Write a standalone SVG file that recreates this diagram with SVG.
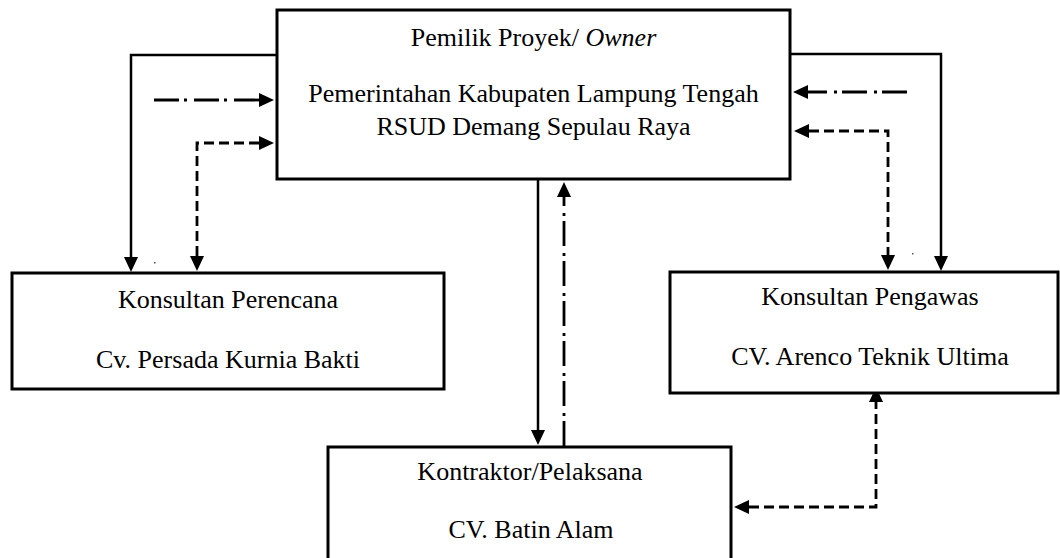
<svg xmlns="http://www.w3.org/2000/svg" width="1060" height="558" viewBox="0 0 1060 558">
  <style>
    .box { fill: #ffffff; stroke: #000000; stroke-width: 3; }
    .lbl { font-family: "Liberation Serif", "Times New Roman", serif; font-size: 26px; fill: #000000; text-anchor: middle; }
    .solid { fill: none; stroke: #000000; stroke-width: 2.5; }
    .dashed { fill: none; stroke: #000000; stroke-width: 2.8; stroke-dasharray: 10 5; }
    .dashdot { fill: none; stroke: #000000; stroke-width: 2.8; stroke-dasharray: 25 5 3 7; }
  </style>
  <defs>
    <marker id="arr" viewBox="0 0 15 14" refX="0" refY="7" markerWidth="15" markerHeight="14" markerUnits="userSpaceOnUse" orient="auto-start-reverse">
      <path d="M0,0 L15,7 L0,14 Z" fill="#000000"/>
    </marker>
  </defs>

  <g id="connectors">
    <path class="solid" d="M277,55 H131 V257" marker-end="url(#arr)"/>
    <path class="dashdot" d="M154,100 H259" marker-end="url(#arr)"/>
    <path class="dashed" d="M259,143 H197 V256" marker-start="url(#arr)" marker-end="url(#arr)"/>
    <path class="solid" d="M790,54 H941 V256" marker-end="url(#arr)"/>
    <path class="dashdot" d="M907,92 H808" marker-end="url(#arr)"/>
    <path class="dashed" d="M809,131 H888 V255" marker-start="url(#arr)" marker-end="url(#arr)"/>
    <path class="solid" d="M538,180 V430" marker-end="url(#arr)"/>
    <path class="dashdot" d="M564,446 V197" marker-end="url(#arr)"/>
    <path class="dashed" d="M749,507 H876 V402" marker-start="url(#arr)" marker-end="url(#arr)"/>
    <rect x="154" y="262" width="1.5" height="1.5" fill="#555555"/>
    <rect x="912" y="253" width="1.5" height="1.5" fill="#555555"/>
  </g>

  <g id="owner">
    <rect class="box" x="277" y="10" width="513" height="169"/>
    <text class="lbl" x="533.5" y="46">Pemilik Proyek/ <tspan font-style="italic">Owner</tspan></text>
    <text class="lbl" x="533.5" y="102">Pemerintahan Kabupaten Lampung Tengah</text>
    <text class="lbl" x="533.5" y="135">RSUD Demang Sepulau Raya</text>
  </g>

  <g id="perencana">
    <rect class="box" x="12" y="273" width="432" height="116"/>
    <text class="lbl" x="228" y="308">Konsultan Perencana</text>
    <text class="lbl" x="228" y="368">Cv. Persada Kurnia Bakti</text>
  </g>

  <g id="pengawas">
    <rect class="box" x="670" y="272" width="388" height="121"/>
    <text class="lbl" x="870" y="305">Konsultan Pengawas</text>
    <text class="lbl" x="870" y="365">CV. Arenco Teknik Ultima</text>
  </g>

  <g id="kontraktor">
    <rect class="box" x="328" y="447" width="403" height="125"/>
    <text class="lbl" x="530" y="480">Kontraktor/Pelaksana</text>
    <text class="lbl" x="531" y="538">CV. Batin Alam</text>
  </g>
</svg>
